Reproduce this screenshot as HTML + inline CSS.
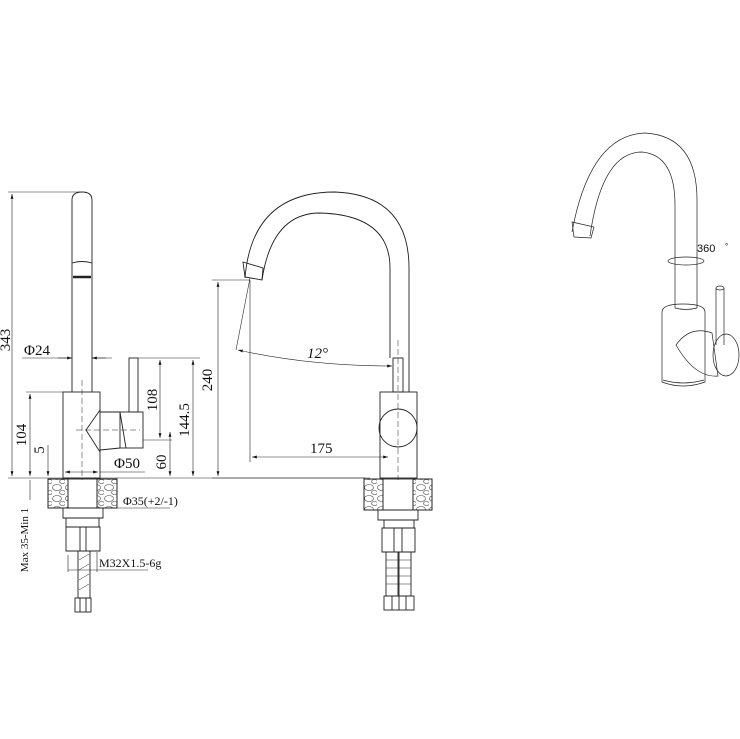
<!DOCTYPE html>
<html><head><style>body{margin:0;background:#fff}svg{display:block}text{font-family:"Liberation Serif",serif;fill:#111}</style></head><body>
<svg width="740" height="739" viewBox="0 0 740 739" xmlns="http://www.w3.org/2000/svg">
<defs>
<marker id="a" viewBox="0 0 10 6" refX="10" refY="3" markerWidth="8" markerHeight="5" orient="auto-start-reverse"><path d="M0,0L10,3L0,6z" fill="#111"/></marker>
<pattern id="st" width="13" height="11" patternUnits="userSpaceOnUse"><ellipse cx="5" cy="3.5" rx="4.5" ry="3" fill="none" stroke="#444" stroke-width="0.6"/><ellipse cx="10.5" cy="8.5" rx="3" ry="2" fill="none" stroke="#444" stroke-width="0.6"/></pattern>
</defs>
<g fill="none" stroke="#222" stroke-width="0.9">
<!-- LEFT VIEW -->
<path d="M72,392V200q0,-8 10,-8t10,8V392"/>
<path d="M72,263q10,-3 20,0"/>
<path d="M73,277h18" stroke-width="2.5"/>
<rect x="63" y="392" width="37" height="86"/>
<rect x="129" y="358" width="9" height="54"/>
<rect x="120" y="412" width="23" height="36"/>
<path d="M100,410L86,430L100,452M100,412L120,412M100,450L120,448M120,412L126,448"/>
<path d="M82,380V480" stroke-dasharray="6,3" stroke-width="0.5"/>
<path d="M76,430H140" stroke-dasharray="6,3" stroke-width="0.5"/>
<g stroke-width="0.6">
<path d="M8,192H80M8,478H365M26,392H63M138,358H200M143,440H172M22,358H72M92,358H112"/>
<path d="M12,194V476" marker-start="url(#a)" marker-end="url(#a)"/>
<path d="M30,394V476" marker-start="url(#a)" marker-end="url(#a)"/>
<path d="M48,445V476" marker-end="url(#a)"/>
<path d="M160,360V438" marker-start="url(#a)" marker-end="url(#a)"/>
<path d="M193,360V476" marker-start="url(#a)" marker-end="url(#a)"/>
<path d="M170,432V476" marker-start="url(#a)" marker-end="url(#a)"/>
<path d="M58,358H72" marker-end="url(#a)"/><path d="M106,358H92" marker-end="url(#a)"/>
<path d="M65,472H98" marker-start="url(#a)" marker-end="url(#a)"/>
<path d="M100,472H145"/>
<path d="M30,480V500M48,490V508"/>
<path d="M117,508H170"/>
<path d="M68,570H148M68,555V572M97,552V572"/>
</g>
<rect x="48" y="479" width="20" height="29" fill="url(#st)"/>
<rect x="97" y="479" width="20" height="29" fill="url(#st)"/>
<rect x="48" y="479" width="69" height="29"/>
<path d="M68,479V508M97,479V508M63,508h40v10h-40zM66,518h33v9h-33zM66,527h34v24h-34zM80,527v24M86,527v24"/>
<rect x="78" y="551" width="12" height="47"/>
<path d="M79,560l10,-6M79,570l10,-6M79,580l10,-6M79,590l10,-6" stroke-width="0.5"/>
<rect x="75" y="598" width="16" height="14"/><path d="M80,598v14M86,598v14"/>
<!-- MIDDLE VIEW -->
<path d="M245,278Q252,192 335,192Q409,195 409,268V392"/>
<path d="M262,280Q272,213 320,213Q390,215 390,268V358"/>
<path d="M243,262L263,268L262,280L245,277Z"/>
<rect x="380" y="392" width="37" height="86"/>
<rect x="393" y="358" width="10" height="34"/>
<circle cx="398" cy="428" r="19"/>
<path d="M398,340V480" stroke-dasharray="6,3" stroke-width="0.5"/>
<g stroke-width="0.6">
<path d="M212,478H370M212,280H250M250,280V462M250,278L236,350"/>
<path d="M218,282V476" marker-start="url(#a)" marker-end="url(#a)"/>
<path d="M238,350Q310,366 392,366" marker-start="url(#a)" marker-end="url(#a)"/>
<path d="M252,457H388" marker-start="url(#a)" marker-end="url(#a)"/>
</g>
<rect x="364" y="479" width="19" height="31" fill="url(#st)"/>
<rect x="413" y="479" width="19" height="31" fill="url(#st)"/>
<rect x="364" y="479" width="68" height="31"/>
<path d="M383,479V510M413,479V510M378,510h40v10h-40zM384,520h30v8h-30zM382,528h33v24h-33zM394,528v24M402,528v24"/>
<rect x="386" y="552" width="12" height="44"/><rect x="399" y="552" width="12" height="44"/>
<path d="M386,560h12M386,568h12M386,576h12M386,584h12M399,560h12M399,568h12M399,576h12M399,584h12" stroke-width="0.5"/>
<rect x="384" y="596" width="30" height="14"/><path d="M392,596v14M399,596v14M406,596v14"/>
<!-- RIGHT VIEW -->
<g stroke-width="0.7">
<path d="M572,232Q590,135 645,133Q697,136 697,200V308"/>
<path d="M590,236Q602,152 642,152Q675,155 675,205V308"/>
<path d="M572,222L594,227L591,238L574,237Z"/>
<ellipse cx="686" cy="261" rx="18" ry="4"/>
<path d="M662,312Q662,304 683,304Q705,304 705,312V382Q683,390 662,382Z"/>
<path d="M675,308Q686,311 697,308"/>
<path d="M663,380Q683,386 704,380"/>
<path d="M716,288V345M724,288V345"/><ellipse cx="720" cy="288" rx="4" ry="2"/>
<path d="M676,345Q690,325 712,333L718,376Q695,378 676,345Z"/>
<ellipse cx="726" cy="355" rx="13" ry="21"/>
</g>
</g>
<text x="24" y="355" font-size="15">Φ24</text>
<text x="114" y="468" font-size="15">Φ50</text>
<text x="123" y="505" font-size="12">Φ35(+2/-1)</text>
<text x="99" y="567" font-size="12">M32X1.5-6g</text>
<text font-size="15" transform="translate(10,340) rotate(-90)" text-anchor="middle">343</text>
<text font-size="15" transform="translate(26,435) rotate(-90)" text-anchor="middle">104</text>
<text font-size="15" transform="translate(44,450) rotate(-90)" text-anchor="middle">5</text>
<text font-size="15" transform="translate(157,400) rotate(-90)" text-anchor="middle">108</text>
<text font-size="15" transform="translate(189,420) rotate(-90)" text-anchor="middle">144.5</text>
<text font-size="15" transform="translate(166,462) rotate(-90)" text-anchor="middle">60</text>
<text font-size="15" transform="translate(212,380) rotate(-90)" text-anchor="middle">240</text>
<text font-size="11" transform="translate(28,540) rotate(-90)" text-anchor="middle">Max 35-Min 1</text>
<text x="307" y="358" font-size="15" font-style="italic">12°</text>
<text x="310" y="453" font-size="15">175</text>
<text x="697" y="252" font-size="11" style="font-family:'Liberation Sans',sans-serif">360</text>
<text x="725" y="249" font-size="8" style="font-family:'Liberation Sans',sans-serif">°</text>
</svg>
</body></html>
